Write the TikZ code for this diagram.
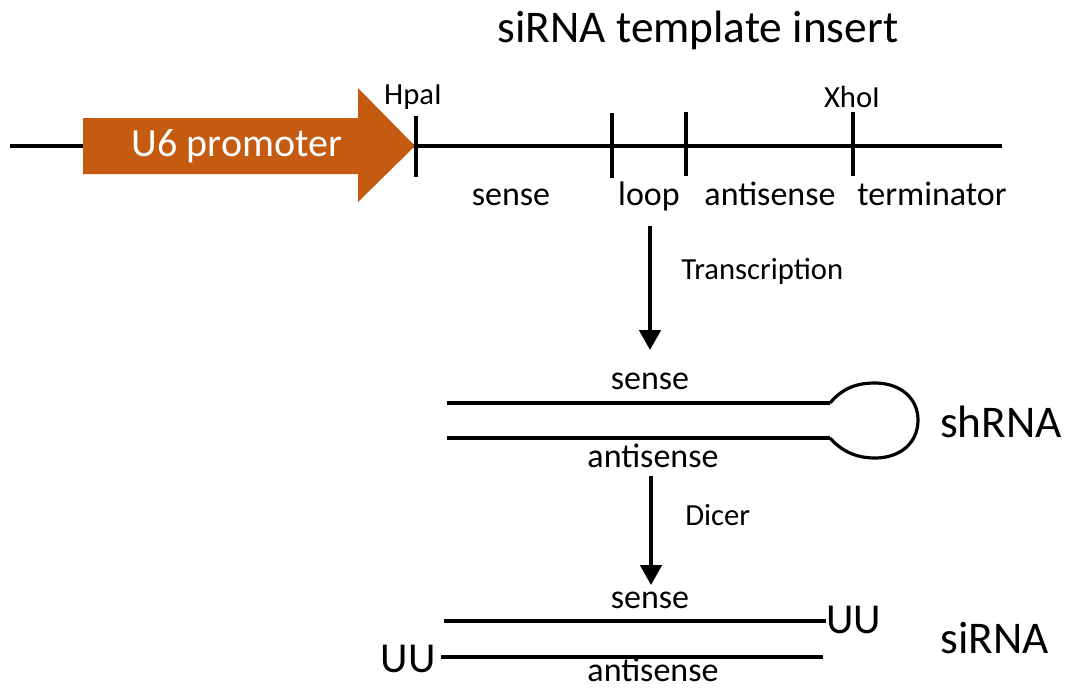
\documentclass[tikz,border=0pt]{standalone}
\usepackage{fontspec}
\setmainfont{Carlito}
\usetikzlibrary{arrows.meta}
\definecolor{promo}{HTML}{C55A11}
\tikzset{
  strand/.style={line width=2.4pt, line cap=butt},
  tick/.style={line width=2.4pt},
  bigarrow/.style={line width=3pt, -{Triangle[width=16pt,length=15pt]}},
  title/.style={font=\fontsize{34}{40}\selectfont, inner sep=0pt},
  lab/.style={font=\fontsize{25.5}{30}\selectfont, inner sep=0pt},
  small/.style={font=\fontsize{23}{27}\selectfont, inner sep=0pt},
  uu/.style={font=\fontsize{32}{38}\selectfont, inner sep=0pt},
}
\begin{document}
\begin{tikzpicture}[x=0.75pt,y=-0.75pt]
\useasboundingbox (0,0) rectangle (1067,690);
% title
\node[title] (title) at (698,30) {siRNA template insert};
% DNA line
\coordinate (L0) at (10,146);
\coordinate (L1) at (1002,146);
\draw[strand] (L0) -- (L1);
% promoter arrow
\fill[promo] (83,118) -- (358,118) -- (358,88) -- (415,146) -- (358,202) -- (358,174) -- (83,174) -- cycle;
\node[font=\fontsize{30}{36}\selectfont, text=white, inner sep=0pt] (u6) at (237,146) {U6 promoter};
% ticks
\draw[tick] (416,116) -- (416,177);
\draw[tick] (612,113) -- (612,178);
\draw[tick] (686,112) -- (686,176);
\draw[tick] (853,112) -- (853,176);
\node[small] (hpa) at (413,97) {HpaI};
\node[small] (xho) at (852,97) {XhoI};
% segment labels
\node[lab, anchor=base] (s1) at (511,205) {sense};
\node[lab, anchor=base] (lp) at (649,205) {loop};
\node[lab, anchor=base] (as1) at (770,205) {antisense};
\node[lab, anchor=base] (term) at (932,205) {terminator};
% transcription arrow
\coordinate (t0) at (650,226);
\coordinate (t1) at (650,350);
\draw[bigarrow] (t0) -- (t1);
\node[small, anchor=west] (trans) at (681,271) {Transcription};
% shRNA
\coordinate (a0) at (447,403);
\coordinate (a1) at (830,403);
\coordinate (b0) at (447,438);
\coordinate (b1) at (830,438);
\draw[strand] (a0) -- (a1);
\draw[strand] (b0) -- (b1);
\draw[line width=2.4pt] (a1) .. controls (845,385) and (862,383) .. (875,383)
  .. controls (900,383) and (918,398) .. (918,420)
  .. controls (918,443) and (900,458) .. (875,458)
  .. controls (862,458) and (845,455) .. (b1);
\node[lab, anchor=base] (s2) at (650,389) {sense};
\node[lab, anchor=base] (as2) at (653,467) {antisense};
\node[title] (sh) at (1001,422) {shRNA};
% Dicer arrow
\coordinate (d0) at (651,476);
\coordinate (d1) at (651,585);
\draw[bigarrow] (d0) -- (d1);
\node[small, anchor=west] (dicer) at (685,515) {Dicer};
% siRNA
\coordinate (c0) at (444,621);
\coordinate (c1) at (826,621);
\coordinate (e0) at (441,657);
\coordinate (e1) at (823,657);
\draw[strand] (c0) -- (c1);
\draw[strand] (e0) -- (e1);
\node[lab, anchor=base] (s3) at (650,608) {sense};
\node[lab, anchor=base] (as3) at (653,681) {antisense};
\node[uu, anchor=west] (uu1) at (826,620) {UU};
\node[uu, anchor=east] (uu2) at (436,659) {UU};
\node[title] (si) at (995,638) {siRNA};
\end{tikzpicture}
\end{document}
